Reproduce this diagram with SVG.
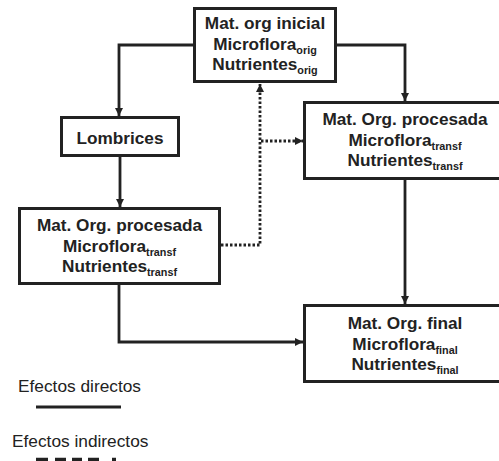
<svg xmlns="http://www.w3.org/2000/svg" width="499" height="461" viewBox="0 0 499 461">
<style>
.box{fill:#fff;stroke:#222;stroke-width:3}
.t{font-family:"Liberation Sans",Arial,sans-serif;font-weight:bold;font-size:17.2px;fill:#222;text-anchor:middle}
.s{font-size:10.8px}
.c{fill:none;stroke:#222;stroke-width:2.8}
.d{fill:none;stroke:#222;stroke-width:2.8;stroke-dasharray:2.5 2}
.lg{font-family:"Liberation Sans",Arial,sans-serif;font-size:17.3px;fill:#222}
</style>
<defs>
<marker id="ah" viewBox="0 0 8 8" refX="8" refY="4" markerWidth="8" markerHeight="8" markerUnits="userSpaceOnUse" orient="auto">
<path d="M0,0 L8,4 L0,8 Z" fill="#222"/>
</marker>
</defs>
<rect width="499" height="461" fill="#fff"/>
<g id="connectors">
<path class="c" d="M194,45 H119 V116" marker-end="url(#ah)"/>
<path class="c" d="M336,45 H405 V101" marker-end="url(#ah)"/>
<path class="c" d="M120,157 V207" marker-end="url(#ah)"/>
<path class="c" d="M405,179 V304" marker-end="url(#ah)"/>
<path class="c" d="M119,284 V342 H303" marker-end="url(#ah)"/>
<path class="d" d="M221,245 H260 V84" marker-end="url(#ah)"/>
<path class="d" d="M261,141 H303" marker-end="url(#ah)"/>
</g>
<g id="n-inicial">
<rect class="box" x="194.5" y="8.5" width="141" height="73"/>
<text class="t" x="265" y="29">Mat. org inicial</text>
<text class="t" x="265" y="50">Microflora<tspan class="s" dy="4">orig</tspan></text>
<text class="t" x="265" y="70">Nutrientes<tspan class="s" dy="4">orig</tspan></text>
</g>
<g id="n-procesada-der">
<rect class="box" x="304.5" y="102.5" width="202" height="76"/>
<text class="t" x="405" y="125">Mat. Org. procesada</text>
<text class="t" x="405" y="146">Microflora<tspan class="s" dy="4">transf</tspan></text>
<text class="t" x="405" y="166">Nutrientes<tspan class="s" dy="4">transf</tspan></text>
</g>
<g id="n-lombrices">
<rect class="box" x="61.5" y="117.5" width="117" height="38"/>
<text class="t" x="120" y="144">Lombrices</text>
</g>
<g id="n-procesada-izq">
<rect class="box" x="19.5" y="208.5" width="200" height="75"/>
<text class="t" x="119.5" y="231">Mat. Org. procesada</text>
<text class="t" x="119.5" y="252">Microflora<tspan class="s" dy="4">transf</tspan></text>
<text class="t" x="119.5" y="272">Nutrientes<tspan class="s" dy="4">transf</tspan></text>
</g>
<g id="n-final">
<rect class="box" x="304.5" y="305.5" width="202" height="76"/>
<text class="t" x="405" y="329">Mat. Org. final</text>
<text class="t" x="405" y="350">Microflora<tspan class="s" dy="4">final</tspan></text>
<text class="t" x="405" y="370">Nutrientes<tspan class="s" dy="4">final</tspan></text>
</g>
<g id="legend">
<text class="lg" x="18" y="392">Efectos directos</text>
<line x1="36" y1="407" x2="121" y2="407" stroke="#222" stroke-width="3"/>
<text class="lg" x="12" y="447">Efectos indirectos</text>
<path d="M36,459.5 H48 M55,459.5 H66 M72,459.5 H82 M88,459.5 H99 M112,459.5 H116" stroke="#222" stroke-width="3.5" fill="none"/>
</g>
</svg>
